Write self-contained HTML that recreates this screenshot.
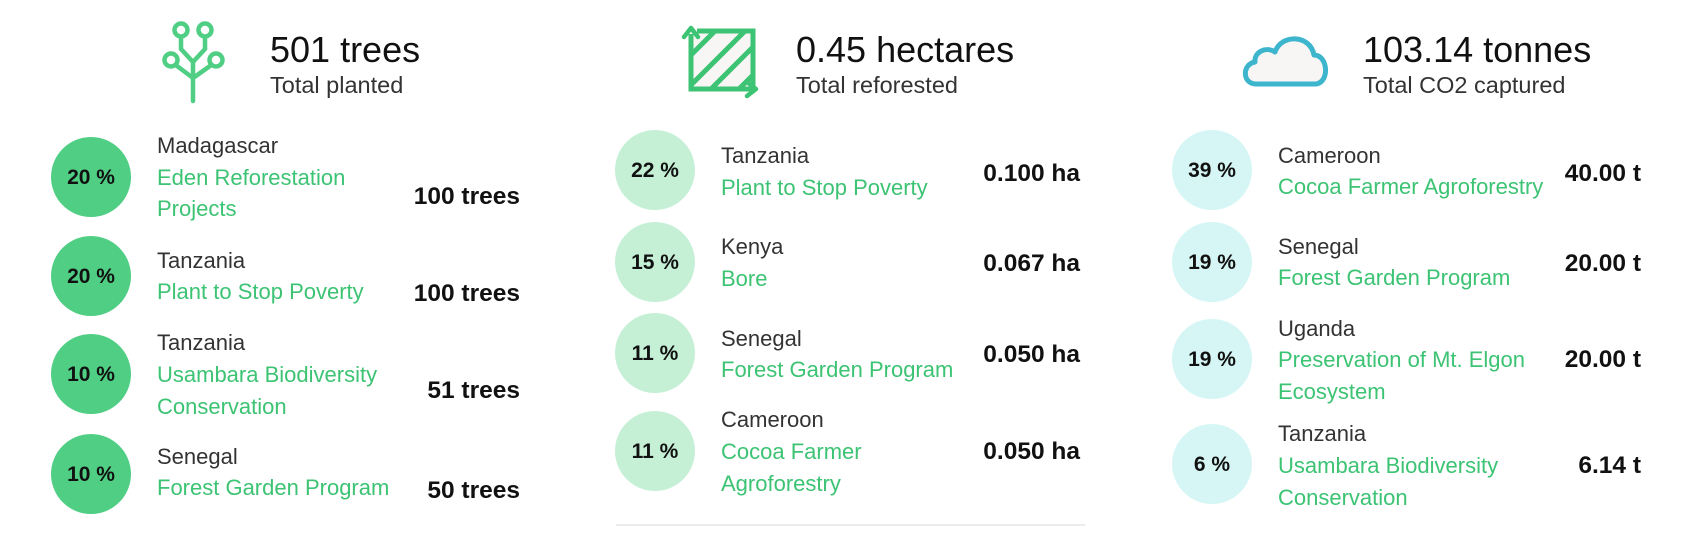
<!DOCTYPE html>
<html><head><meta charset="utf-8"><style>
html,body{margin:0;padding:0;background:#fff;}
svg{display:block;font-family:"Liberation Sans",sans-serif;}
.h{font-size:36px;fill:#111;}
.s{font-size:23.5px;fill:#333;}
.c{font-size:22px;fill:#333;}
.p{font-size:22px;fill:#3cc373;}
.v{font-size:24.5px;font-weight:bold;fill:#111;text-anchor:end;}
.pc{font-size:21px;font-weight:bold;fill:#111;text-anchor:middle;}
</style></head><body>
<svg width="1691" height="543" viewBox="0 0 1691 543">
<g>
 <g fill="none" stroke="#4fce84" stroke-width="4.5" stroke-linecap="round">
  <path d="M193 101 V62 L181 49 V37 M193 62 L205 49 V37 M193 78 L177 66 M193 78 L210 66"/>
  <circle cx="181" cy="30" r="6.5"/><circle cx="205" cy="30" r="6.5"/>
  <circle cx="171" cy="60" r="6.5"/><circle cx="216" cy="60" r="6.5"/>
 </g>
 <text class="h" x="270" y="62">501 trees</text>
 <text class="s" x="270" y="93">Total planted</text>
 <g>
  <circle cx="91" cy="177" r="40" fill="#4fce84"/>
  <text class="pc" x="91" y="184">20 %</text>
  <text class="c" x="157" y="153">Madagascar</text>
  <text class="p" x="157" y="185">Eden Reforestation</text>
  <text class="p" x="157" y="216">Projects</text>
  <text class="v" x="520" y="204">100 trees</text>
 </g>
 <g>
  <circle cx="91" cy="276" r="40" fill="#4fce84"/>
  <text class="pc" x="91" y="283">20 %</text>
  <text class="c" x="157" y="268">Tanzania</text>
  <text class="p" x="157" y="299">Plant to Stop Poverty</text>
  <text class="v" x="520" y="301">100 trees</text>
 </g>
 <g>
  <circle cx="91" cy="374" r="40" fill="#4fce84"/>
  <text class="pc" x="91" y="381">10 %</text>
  <text class="c" x="157" y="350">Tanzania</text>
  <text class="p" x="157" y="382">Usambara Biodiversity</text>
  <text class="p" x="157" y="414">Conservation</text>
  <text class="v" x="520" y="398">51 trees</text>
 </g>
 <g>
  <circle cx="91" cy="474" r="40" fill="#4fce84"/>
  <text class="pc" x="91" y="481">10 %</text>
  <text class="c" x="157" y="464">Senegal</text>
  <text class="p" x="157" y="495">Forest Garden Program</text>
  <text class="v" x="520" y="498">50 trees</text>
 </g>
</g>
<g>
 <g>
  <defs><clipPath id="sq"><rect x="691" y="31" width="62" height="58"/></clipPath></defs>
  <rect x="691" y="31" width="62" height="58" fill="#f7f6f4"/>
  <g clip-path="url(#sq)" stroke="#3cc373" stroke-width="5">
   <line x1="681" y1="65" x2="725" y2="21"/><line x1="681" y1="95" x2="745" y2="31"/><line x1="701" y1="99" x2="765" y2="35"/><line x1="725" y1="103" x2="770" y2="58"/>
  </g>
  <path d="M691 34 V89 H753 V31 H697" fill="none" stroke="#3cc373" stroke-width="5"/>
  <path d="M684 37 L691 28 L698 37 M747 82 L756 89 L747 96" fill="none" stroke="#3cc373" stroke-width="4.5" stroke-linecap="round" stroke-linejoin="round"/>
 </g>
 <text class="h" x="796" y="62">0.45 hectares</text>
 <text class="s" x="796" y="93">Total reforested</text>
 <g>
  <circle cx="655" cy="170" r="40" fill="#c5f0d6"/>
  <text class="pc" x="655" y="177">22 %</text>
  <text class="c" x="721" y="163">Tanzania</text>
  <text class="p" x="721" y="195">Plant to Stop Poverty</text>
  <text class="v" x="1080" y="181">0.100 ha</text>
 </g>
 <g>
  <circle cx="655" cy="262" r="40" fill="#c5f0d6"/>
  <text class="pc" x="655" y="269">15 %</text>
  <text class="c" x="721" y="254">Kenya</text>
  <text class="p" x="721" y="286">Bore</text>
  <text class="v" x="1080" y="271">0.067 ha</text>
 </g>
 <g>
  <circle cx="655" cy="353" r="40" fill="#c5f0d6"/>
  <text class="pc" x="655" y="360">11 %</text>
  <text class="c" x="721" y="346">Senegal</text>
  <text class="p" x="721" y="377">Forest Garden Program</text>
  <text class="v" x="1080" y="362">0.050 ha</text>
 </g>
 <g>
  <circle cx="655" cy="451" r="40" fill="#c5f0d6"/>
  <text class="pc" x="655" y="458">11 %</text>
  <text class="c" x="721" y="427">Cameroon</text>
  <text class="p" x="721" y="459">Cocoa Farmer</text>
  <text class="p" x="721" y="491">Agroforestry</text>
  <text class="v" x="1080" y="459">0.050 ha</text>
 </g>
 <line x1="616" y1="525" x2="1085" y2="525" stroke="#e6e6e6" stroke-width="1.5"/>
</g>
<g>
 <path d="M1256 84 C1242 84 1242 64 1255 62 C1254 52 1266 46 1275 52 C1281 34 1310 34 1314 55 C1328 55 1330 82 1316 84 Z" fill="#f7f6f4" stroke="#3db5cc" stroke-width="5" stroke-linejoin="round"/>
 <text class="h" x="1363" y="62">103.14 tonnes</text>
 <text class="s" x="1363" y="93">Total CO2 captured</text>
 <g>
  <circle cx="1212" cy="170" r="40" fill="#d5f6f4"/>
  <text class="pc" x="1212" y="177">39 %</text>
  <text class="c" x="1278" y="163">Cameroon</text>
  <text class="p" x="1278" y="194">Cocoa Farmer Agroforestry</text>
  <text class="v" x="1641" y="181">40.00 t</text>
 </g>
 <g>
  <circle cx="1212" cy="262" r="40" fill="#d5f6f4"/>
  <text class="pc" x="1212" y="269">19 %</text>
  <text class="c" x="1278" y="254">Senegal</text>
  <text class="p" x="1278" y="285">Forest Garden Program</text>
  <text class="v" x="1641" y="271">20.00 t</text>
 </g>
 <g>
  <circle cx="1212" cy="359" r="40" fill="#d5f6f4"/>
  <text class="pc" x="1212" y="366">19 %</text>
  <text class="c" x="1278" y="336">Uganda</text>
  <text class="p" x="1278" y="367">Preservation of Mt. Elgon</text>
  <text class="p" x="1278" y="399">Ecosystem</text>
  <text class="v" x="1641" y="367">20.00 t</text>
 </g>
 <g>
  <circle cx="1212" cy="464" r="40" fill="#d5f6f4"/>
  <text class="pc" x="1212" y="471">6 %</text>
  <text class="c" x="1278" y="441">Tanzania</text>
  <text class="p" x="1278" y="473">Usambara Biodiversity</text>
  <text class="p" x="1278" y="505">Conservation</text>
  <text class="v" x="1641" y="473">6.14 t</text>
 </g>
</g>
</svg>
</body></html>
